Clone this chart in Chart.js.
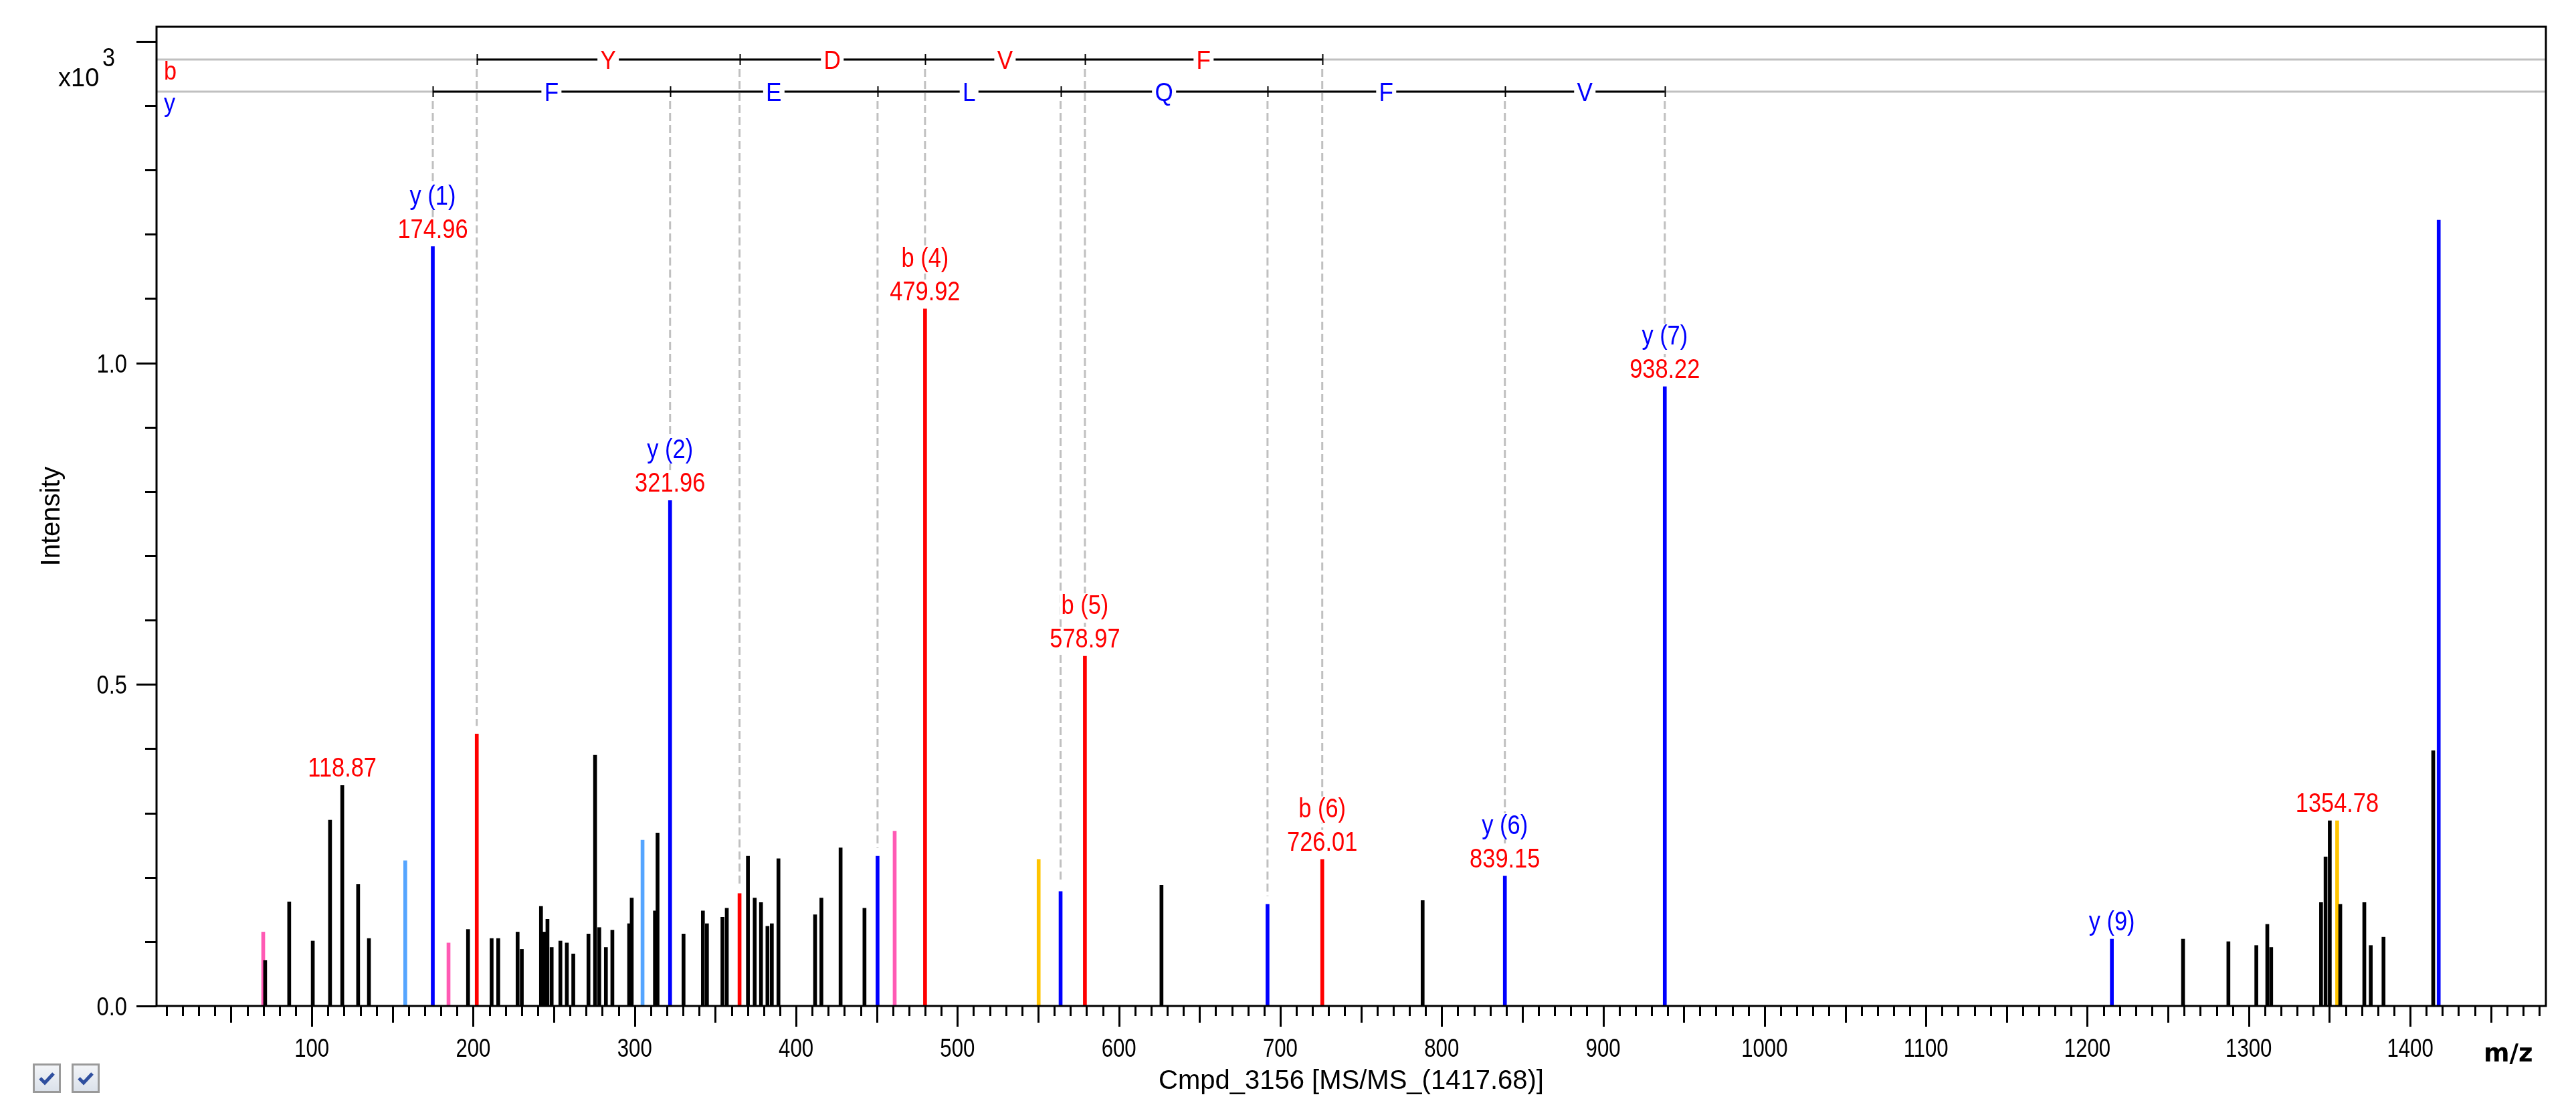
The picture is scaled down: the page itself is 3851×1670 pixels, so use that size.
<!DOCTYPE html>
<html><head><meta charset="utf-8">
<script src="https://cdn.jsdelivr.net/npm/chart.js@4.4.1/dist/chart.umd.min.js"></script>
<style>html,body{margin:0;padding:0;background:#fff;overflow:hidden}#wrap{width:3851px;height:1670px;position:relative}</style>
</head><body><div id="wrap"><canvas id="c"></canvas></div>
<script>
// ---- data (m/z, intensity x10^3) ----
const blackMz  = [71.1,86.0,100.6,111.3,118.87,128.7,135.4,196.8,211.4,215.5,227.5,230.1,242.0,244.0,246.0,248.6,254.0,258.0,262.0,271.4,275.5,278.1,282.2,286.2,296.6,298.2,312.6,314.2,330.3,342.3,344.8,354.4,357.1,370.2,374.4,378.3,382.3,385.0,389.1,411.8,415.7,427.6,442.4,626.4,788.2,1259.3,1287.4,1304.7,1311.5,1313.9,1344.8,1347.6,1350.2,1356.7,1371.6,1375.6,1383.5,1414.3];
const blackInt = [0.071,0.162,0.101,0.289,0.343,0.189,0.105,0.119,0.105,0.105,0.115,0.088,0.155,0.115,0.135,0.091,0.101,0.098,0.081,0.112,0.390,0.122,0.091,0.118,0.128,0.168,0.148,0.269,0.112,0.148,0.128,0.138,0.152,0.233,0.168,0.161,0.124,0.128,0.229,0.142,0.168,0.246,0.152,0.188,0.164,0.104,0.100,0.094,0.127,0.091,0.161,0.232,0.288,0.158,0.161,0.094,0.107,0.397];
const redMz    = [202.2,365.0,479.92,578.97,726.01];        // b2..b6
const redInt   = [0.423,0.175,1.084,0.544,0.228];
const blueMz   = [174.96,321.96,450.5,563.9,692.1,839.15,938.22,1215.2,1417.68]; // y1..y7, y9, precursor
const blueInt  = [1.181,0.786,0.233,0.178,0.158,0.202,0.963,0.104,1.222];
const lightBlueMz  = [157.9,304.9];
const lightBlueInt = [0.226,0.258];
const pinkMz   = [69.9,184.7,461.1];
const pinkInt  = [0.115,0.098,0.272];
const orangeMz = [550.3,1354.78];
const orangeInt= [0.228,0.288];

// sequence annotation
const bLetters = ['Y','D','V','F'];
const yLetters = ['F','E','L','Q','F','V'];
const yIonCount = 7;

// peak labels
const labelMz    = [118.87,174.96,321.96,479.92,578.97,726.01,839.15,938.22,1215.2,1354.78];
const labelInt   = [0.343,1.181,0.786,1.084,0.544,0.228,0.202,0.963,0.104,0.288];
const labelNames = ['','y (1)','y (2)','b (4)','b (5)','b (6)','y (6)','y (7)','y (9)',''];
const labelVals  = ['118.87','174.96','321.96','479.92','578.97','726.01','839.15','938.22','','1354.78'];

const xTickLabels = [100,200,300,400,500,600,700,800,900,1000,1100,1200,1300,1400];
const yTickLabels = ['0.0','0.5','1.0'];

const RED='#ff0000', BLUE='#0000ff';
function pts(mz, it){ return mz.map((m,i)=>({x:m,y:it[i]})); }

function txt(ctx,s,x,y,font,color,align,sx){
  ctx.save(); ctx.font=font; ctx.fillStyle=color; ctx.textAlign=align; ctx.textBaseline='alphabetic';
  ctx.translate(x,y); ctx.scale(sx,1); ctx.fillText(s,0,0); ctx.restore();
}
function txtW(ctx,s,font,sx){ ctx.save(); ctx.font=font; const w=ctx.measureText(s).width*sx; ctx.restore(); return w; }

const NARROW = 0.86;
const LBLFONT = '40px "Liberation Sans", Arial, sans-serif';
const TICKFONT = '38px "Liberation Sans", Arial, sans-serif';

const deco = {
  id:'deco',
  beforeDatasetsDraw(chart){
    const {ctx, chartArea:a, scales:{x:xs,y:ys}} = chart;
    const bY = a.top+49, yY = a.top+97;
    ctx.save();
    ctx.strokeStyle='#c0c0c0'; ctx.lineWidth=3;
    ctx.beginPath(); ctx.moveTo(a.left,bY); ctx.lineTo(a.right,bY); ctx.moveTo(a.left,yY); ctx.lineTo(a.right,yY); ctx.stroke();
    ctx.setLineDash([12,6]); ctx.lineWidth=3;
    redMz.forEach((m,i)=>{ const px=xs.getPixelForValue(m); ctx.beginPath(); ctx.moveTo(px,bY+14); ctx.lineTo(px,ys.getPixelForValue(redInt[i])-12); ctx.stroke(); });
    for(let i=0;i<yIonCount;i++){ const px=xs.getPixelForValue(blueMz[i]); ctx.beginPath(); ctx.moveTo(px,yY+14); ctx.lineTo(px,ys.getPixelForValue(blueInt[i])-12); ctx.stroke(); }
    ctx.restore();
  },
  afterDatasetsDraw(chart){
    const {ctx, chartArea:a, scales:{x:xs,y:ys}} = chart;
    const bY = a.top+49, yY = a.top+97;
    ctx.save();
    // frame
    ctx.strokeStyle='#000'; ctx.lineWidth=3; ctx.setLineDash([]);
    ctx.strokeRect(a.left,a.top,a.right-a.left,a.bottom-a.top);
    // x ticks
    ctx.lineWidth=3; ctx.beginPath();
    for(let v=10; v<=1480; v+=10){
      const px=Math.round(xs.getPixelForValue(v))+0.5;
      const len = v%100===0?31:(v%50===0?25:15);
      ctx.moveTo(px,a.bottom); ctx.lineTo(px,a.bottom+len);
    }
    ctx.stroke();
    // y ticks
    ctx.beginPath();
    for(let k=0;k<=15;k++){
      const py=Math.round(ys.getPixelForValue(k/10))+0.5;
      const len = k%5===0?30:17;
      ctx.moveTo(a.left,py); ctx.lineTo(a.left-len,py);
    }
    ctx.stroke();
    xTickLabels.forEach(v=>txt(ctx,String(v),xs.getPixelForValue(v),a.bottom+76,TICKFONT,'#000','center',0.82));
    yTickLabels.forEach(s=>txt(ctx,s,a.left-44,ys.getPixelForValue(parseFloat(s))+14,TICKFONT,'#000','right',0.86));
    // x10^3
    txt(ctx,'x10',87,a.top+89,'38px "Liberation Sans", Arial, sans-serif','#000','left',1);
    txt(ctx,'3',153,a.top+59,'38px "Liberation Sans", Arial, sans-serif','#000','left',0.9);
    // axis titles
    ctx.save(); ctx.translate(89,a.top+732); ctx.rotate(-Math.PI/2);
    ctx.font='40px "Liberation Sans", Arial, sans-serif'; ctx.fillStyle='#000'; ctx.textAlign='center'; ctx.fillText('Intensity',0,0); ctx.restore();
    txt(ctx,'Cmpd_3156 [MS/MS_(1417.68)]',(a.left+a.right)/2,a.bottom+124,'40px "Liberation Sans", Arial, sans-serif','#000','center',1);
    txt(ctx,'m/z',3713,a.bottom+83,'bold 37px "DejaVu Sans", sans-serif','#000','left',1);
    // series letters b / y
    txt(ctx,'b',a.left+11,a.top+79,'38px "Liberation Sans", Arial, sans-serif',RED,'left',0.9);
    txt(ctx,'y',a.left+11,a.top+127,'38px "Liberation Sans", Arial, sans-serif',BLUE,'left',0.9);
    // sequence ladders
    function ladder(mzs, letters, lineY, color){
      const pxs = mzs.map(m=>xs.getPixelForValue(m));
      ctx.strokeStyle='#000'; ctx.lineWidth=3; ctx.beginPath(); ctx.moveTo(pxs[0],lineY); ctx.lineTo(pxs[pxs.length-1],lineY); ctx.stroke();
      ctx.lineWidth=2; ctx.beginPath();
      pxs.forEach(p=>{ ctx.moveTo(Math.round(p)+0.5,lineY-8); ctx.lineTo(Math.round(p)+0.5,lineY+8); }); ctx.stroke();
      letters.forEach((L,i)=>{
        const cx=(pxs[i]+pxs[i+1])/2; const w=txtW(ctx,L,LBLFONT,0.9);
        ctx.fillStyle='#fff'; ctx.fillRect(cx-w/2-4,lineY-4,w+8,8);
        txt(ctx,L,cx,lineY+14,'39px "Liberation Sans", Arial, sans-serif',color,'center',0.9);
      });
    }
    ladder(redMz, bLetters, bY, RED);
    ladder(blueMz.slice(0,yIonCount), yLetters, yY, BLUE);
    // peak labels
    labelMz.forEach((m,i)=>{
      const px=xs.getPixelForValue(m), top=ys.getPixelForValue(labelInt[i]);
      let base = top-13;
      const items=[];
      if(labelVals[i]) { items.push([labelVals[i],RED,base]); base-=50; }
      if(labelNames[i]) items.push([labelNames[i], labelNames[i][0]==='b'?RED:BLUE, base]);
      items.forEach(([s,c,b])=>{
        const w=txtW(ctx,s,LBLFONT,NARROW);
        ctx.fillStyle='#fff'; ctx.fillRect(px-w/2-2,b-31,w+4,39);
        txt(ctx,s,px,b,LBLFONT,c,'center',NARROW);
      });
    });
    // checkboxes
    [49,107].forEach(x0=>{
      const y0=1590;
      const g=ctx.createLinearGradient(0,y0,0,y0+44); g.addColorStop(0,'#f4f6f9'); g.addColorStop(1,'#d9e0e9');
      ctx.fillStyle=g; ctx.fillRect(x0,y0,42,44);
      ctx.strokeStyle='#9a9a9a'; ctx.lineWidth=3; ctx.strokeRect(x0+1.5,y0+1.5,39,41);
      ctx.strokeStyle='#2f4f9f'; ctx.lineWidth=5; ctx.beginPath(); ctx.moveTo(x0+11,y0+22); ctx.lineTo(x0+18,y0+29); ctx.lineTo(x0+31,y0+15); ctx.stroke();
    });
    ctx.restore();
  }
};

const ds = (mz,it,color)=>({data:pts(mz,it),backgroundColor:color,borderWidth:0,barThickness:5,grouped:false});

new Chart(document.getElementById('c'),{
  type:'bar',
  data:{datasets:[
    ds(blackMz,blackInt,'#000000'),
    ds(blueMz,blueInt,BLUE),
    ds(redMz,redInt,RED),
    ds(orangeMz,orangeInt,'#ffc400'),
    ds(lightBlueMz,lightBlueInt,'#55a5ff'),
    ds(pinkMz,pinkInt,'#ff5ab4')
  ]},
  options:{
    responsive:true, maintainAspectRatio:false, animation:false,
    layout:{padding:{left:234,right:45,top:40,bottom:166}},
    plugins:{legend:{display:false},tooltip:{enabled:false}},
    scales:{
      x:{type:'linear',min:3.8,max:1484.1,offset:false,display:false},
      y:{type:'linear',min:0,max:1.5228,display:false}
    }
  },
  plugins:[deco]
});
</script>
</body></html>
